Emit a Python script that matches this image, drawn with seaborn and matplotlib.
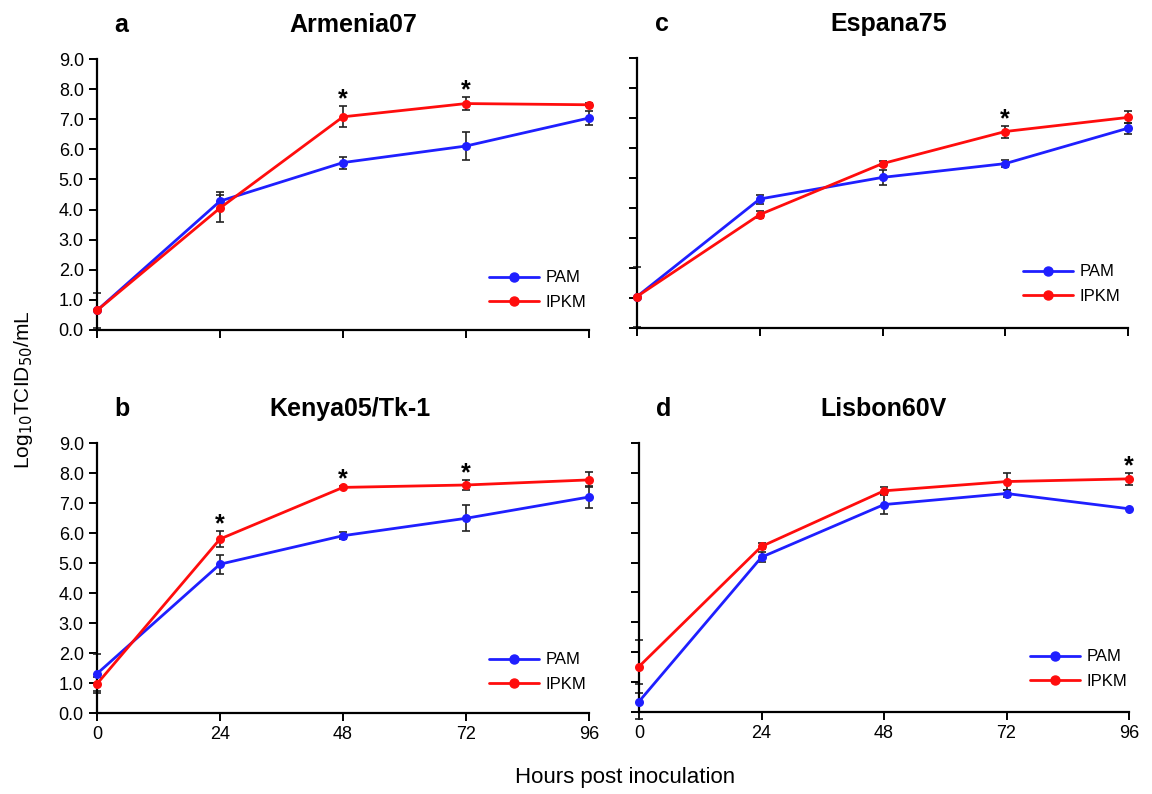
import pandas as pd
import numpy as np
import matplotlib
matplotlib.use('Agg')
import matplotlib.pyplot as plt
import seaborn as sns

hours = [0, 24, 48, 72, 96]
panels = ['a', 'c', 'b', 'd']
titles = ['Armenia07', 'Espana75', 'Kenya05/Tk-1', 'Lisbon60V']

pam = {
    'a': [0.65, 4.28, 5.56, 6.11, 7.04],
    'c': [1.05, 4.30, 5.02, 5.48, 6.66],
    'b': [1.31, 4.96, 5.91, 6.49, 7.20],
    'd': [0.35, 5.18, 6.94, 7.31, 6.80],
}
pam_err = {
    'a': [0.57, 0.30, 0.20, 0.47, 0.24],
    'c': [1.00, 0.15, 0.25, 0.12, 0.18],
    'b': [0.65, 0.31, 0.11, 0.43, 0.36],
    'd': [0.60, 0.16, 0.32, 0.12, 0.00],
}
ipkm = {
    'a': [0.65, 4.05, 7.08, 7.52, 7.48],
    'c': [1.05, 3.78, 5.48, 6.55, 7.02],
    'b': [0.97, 5.80, 7.52, 7.60, 7.77],
    'd': [1.52, 5.54, 7.40, 7.71, 7.80],
}
ipkm_err = {
    'a': [0.0, 0.45, 0.35, 0.23, 0.05],
    'c': [0.0, 0.12, 0.09, 0.20, 0.20],
    'b': [0.22, 0.26, 0.05, 0.18, 0.25],
    'd': [0.90, 0.10, 0.12, 0.28, 0.20],
}
# hours with significance marks (placed over IPKM)
stars = {'a': [48, 72], 'c': [72], 'b': [24, 48, 72], 'd': [96]}

colors = {'PAM': '#1f1fff', 'IPKM': '#ff0d0d'}

sns.set_style('ticks')
plt.rcParams['font.family'] = ['Liberation Sans', 'DejaVu Sans']
for k in ['text.color', 'axes.labelcolor', 'xtick.color', 'ytick.color', 'axes.edgecolor']:
    plt.rcParams[k] = 'black'

fig = plt.figure(figsize=(11.52, 7.94), dpi=100)
W, H = 1152, 794
boxes = {
    'a': (97, 59, 589, 330),
    'c': (637, 58, 1128, 328),
    'b': (97, 443, 589, 713),
    'd': (639, 443, 1129, 712),
}
title_x = {'a': 353, 'c': 889, 'b': 350, 'd': 884}
# legend anchor (left x of handle, middle y between rows) in pixels
leg_pos = {'a': (489, 290), 'c': (1023, 284), 'b': (489, 672), 'd': (1030, 669)}

for p, title in zip(panels, titles):
    l, t, r, b = boxes[p]
    ax = fig.add_axes([l / W, 1 - b / H, (r - l) / W, (b - t) / H])
    df = pd.DataFrame({
        'hours': hours * 2,
        'titer': pam[p] + ipkm[p],
        'err': pam_err[p] + ipkm_err[p],
        'group': ['PAM'] * 5 + ['IPKM'] * 5,
    })
    for g in ['PAM', 'IPKM']:
        sub = df[df['group'] == g]
        ax.errorbar(sub['hours'], sub['titer'], yerr=sub['err'], fmt='none',
                    ecolor='#222222', elinewidth=1.2, capsize=3.2, capthick=1.2,
                    zorder=2, clip_on=False)
    sns.lineplot(data=df, x='hours', y='titer', hue='group', palette=colors,
                 marker='o', markersize=6.5, markeredgewidth=0, linewidth=2,
                 ax=ax, zorder=3, clip_on=False, legend=False)

    for h in stars[p]:
        i = hours.index(h)
        ytop = ipkm[p][i] + ipkm_err[p][i]
        ax.text(h, ytop + 0.22, '*', ha='center', va='center',
                fontsize=18, fontweight='bold')

    ax.set_xlim(0, 96)
    ax.set_ylim(0, 9)
    ax.set_xticks(hours)
    ax.set_yticks(np.arange(0, 9.5, 1))
    ax.set_xlabel('')
    ax.set_ylabel('')
    sns.despine(ax=ax)
    ax.spines['left'].set_linewidth(1.6)
    ax.spines['bottom'].set_linewidth(1.6)
    ax.tick_params(axis='both', length=6, width=1.4, labelsize=13, direction='out')
    if p in ('a', 'b'):
        ax.set_yticklabels([f'{v:.1f}' for v in np.arange(0, 9.5, 1)])
    else:
        ax.set_yticklabels([])
    if p in ('b', 'd'):
        ax.set_xticklabels([str(h) for h in hours])
    else:
        ax.set_xticklabels([])

    ax.text((title_x[p] - l) / (r - l), 1.0 + 22 / (b - t), title,
            transform=ax.transAxes, fontsize=18, fontweight='bold',
            ha='center', va='bottom')
    ax.text(0.05, 1.0 + 22 / (b - t), p, transform=ax.transAxes, fontsize=18,
            fontweight='bold', ha='center', va='bottom')

    lx, ly = leg_pos[p]
    handles = [plt.Line2D([], [], color=colors[g], marker='o', markersize=6.5,
                          linewidth=2) for g in ['PAM', 'IPKM']]
    ax.legend(handles, ['PAM', 'IPKM'], loc='center left', frameon=False,
              fontsize=12, bbox_to_anchor=((lx - l) / (r - l), 1 - (ly - t) / (b - t)),
              borderpad=0, borderaxespad=0, handlelength=3.0,
              handletextpad=0.4, labelspacing=0.55)

fig.text(24 / W, 1 - 390 / H, 'Log$_{10}$TCID$_{50}$/mL', rotation=90,
         ha='center', va='center', fontsize=15)
fig.text(625 / W, 1 - 777 / H, 'Hours post inoculation', ha='center',
         va='center', fontsize=16)

fig.savefig('out.png', dpi=100)
